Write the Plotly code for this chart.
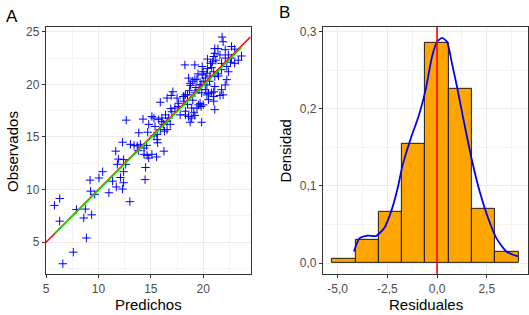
import numpy as np
import plotly.graph_objects as go

# ---------------- data: panel A (predicted vs observed) ----------------
predichos = [5.8, 6.3, 6.3, 7.6, 6.6, 8.85, 8.6, 9.35, 8.75, 7.9, 9.25, 9.65, 11.0, 13.0,
             9.2, 10.05, 10.4, 11.7, 12.3, 12.4, 11.35, 12.1, 12.4, 11.9, 12.4, 11.8, 12.6, 11.65,
             14.5, 14.45, 14.35, 14.65, 15.1, 15.55, 14.8, 16.25,
             12.3, 13.05, 13.4, 13.7, 14.0, 14.35, 14.6, 13.85, 14.7, 15.3, 15.6, 15.65, 16.3, 15.6,
             12.65, 14.25, 15.3, 15.75, 16.05, 15.1, 16.4, 16.7, 16.05, 16.55, 16.2, 16.85, 16.55, 15.9,
             15.9, 16.55, 17.1, 16.95, 17.5, 18.15, 18.15, 17.65, 17.3, 18.3, 18.9, 19.1, 18.9, 19.7,
             19.8, 17.8, 18.3, 18.6, 19.2, 18.75, 19.85, 19.55, 19.4, 20.0, 20.5, 21.0, 21.1, 18.1,
             18.6, 19.0, 19.4, 18.8, 19.3, 19.8, 18.7, 19.2, 19.6, 18.5, 19.85, 20.35, 20.8, 21.0,
             21.6, 20.35, 20.2, 20.5, 21.1, 21.0, 22.1, 21.75, 21.9, 18.75, 19.7, 18.3,
             19.2, 20.2, 20.65, 19.9, 20.35, 20.0, 21.0, 21.75, 21.1, 21.45, 22.25, 19.9, 19.2, 18.25,
             21.75, 22.25, 20.9, 21.2, 20.7, 23.0, 23.35, 22.4,
             21.1, 21.0, 22.4, 22.1, 22.7, 23.65, 21.1, 21.4, 22.1, 22.7, 23.0, 21.8, 21.9,
             20.0, 20.6, 19.5, 20.8, 21.4, 20.4, 19.0, 17.6, 18.5, 17.0, 16.9, 15.4, 14.8, 13.8,
             20.4, 22.6, 21.6]
observados = [8.5, 9.15, 7.0, 4.05, 2.95, 5.4, 7.3, 7.6, 8.15, 8.1, 9.85, 9.55, 9.7, 8.85,
              10.9, 11.1, 11.7, 10.25, 10.05, 10.65, 10.8, 11.15, 11.7, 12.9, 12.85, 12.4, 12.4, 13.65,
              12.1, 10.95, 13.35, 13.25, 13.35, 13.1, 13.0, 13.65,
              14.5, 14.3, 14.2, 14.15, 14.3, 13.95, 14.2, 15.4, 15.45, 15.1, 14.75, 14.45, 15.55, 15.25,
              16.6, 16.7, 16.8, 16.65, 16.8, 16.95, 17.1, 16.8, 16.45, 16.5, 16.2, 16.2, 15.7, 15.7,
              18.3, 18.7, 19.3, 18.95, 18.7, 18.85, 18.4, 18.2, 17.75, 17.45, 17.75, 17.3, 16.8, 18.2,
              17.9, 17.1, 17.1, 16.95, 17.05, 16.4, 16.4, 18.05, 17.75, 18.05, 18.55, 18.4, 17.6, 18.85,
              20.6, 20.3, 20.5, 19.9, 19.7, 20.0, 19.4, 19.2, 19.5, 19.0, 19.2, 19.0, 19.2, 18.85,
              18.95, 19.95, 19.5, 19.15, 19.8, 19.3, 19.95, 19.5, 19.0, 20.1, 19.95, 19.0,
              20.45, 20.6, 20.8, 20.9, 21.05, 21.2, 21.2, 21.4, 20.75, 20.8, 20.45, 21.7, 21.85, 21.85,
              22.0, 21.7, 22.15, 22.3, 22.0, 22.0, 22.3, 21.2,
              22.95, 22.65, 22.8, 22.5, 22.5, 22.7, 23.4, 23.4, 23.3, 23.6, 23.35, 24.5, 24.05,
              20.3, 20.3, 21.0, 21.6, 21.0, 21.5, 18.5, 17.9, 18.1, 17.4, 17.7, 16.0, 16.2, 13.7,
              22.4, 22.1, 22.8]

# ---------------- data: panel B (residual histogram + density) ----------------
bin_edges = [-5.27, -4.10, -2.94, -1.76, -0.60, 0.58, 1.74, 2.92, 4.10]
densidad_hist = [0.005, 0.030, 0.0665, 0.155, 0.286, 0.226, 0.0705, 0.015]
dens_x = [-4.18, -3.90, -3.48, -3.07, -2.66, -2.32, -1.99, -1.74, -1.33, -0.92, -0.58, -0.25,
          0.0, 0.25, 0.5, 0.75, 1.0, 1.33, 1.74, 2.15, 2.57, 2.99, 3.48, 4.06]
dens_y = [0.015, 0.032, 0.0355, 0.035, 0.045, 0.066, 0.096, 0.126, 0.161, 0.191, 0.224, 0.268,
          0.287, 0.292, 0.287, 0.259, 0.229, 0.186, 0.135, 0.092, 0.058, 0.032, 0.015, 0.0085]

x_ticks_b = [-5, -2.5, 0, 2.5]
x_ticktext_b = ["-5,0", "-2,5", "0,0", "2,5"]
y_ticks_b = [0, 0.1, 0.2, 0.3]
y_ticktext_b = ["0,0", "0,1", "0,2", "0,3"]

W, H = 529, 315
FONT = "Liberation Sans, Arial, sans-serif"

xr_a = [4.97, 24.52]
yr_a = [1.95, 25.47]
xr_b = [-5.74, 4.57]
yr_b = [-0.0146, 0.3064]

fig = go.Figure()

# Panel A
fig.add_trace(go.Scatter(x=predichos, y=observados, mode="markers",
                         marker=dict(symbol="cross-thin", size=6, line=dict(color="#0000FF", width=1)),
                         xaxis="x", yaxis="y", showlegend=False))
fig.add_trace(go.Scatter(x=xr_a, y=xr_a, mode="lines", line=dict(color="#FF0000", width=1.6),
                         xaxis="x", yaxis="y", showlegend=False))
coef = np.polyfit(predichos, observados, 1)
fx = np.array([min(predichos), max(predichos)])
fig.add_trace(go.Scatter(x=fx, y=np.polyval(coef, fx), mode="lines",
                         line=dict(color="#00E000", width=1.7),
                         xaxis="x", yaxis="y", showlegend=False))

# Panel B
centers = [(bin_edges[i] + bin_edges[i + 1]) / 2 for i in range(len(densidad_hist))]
widths = [bin_edges[i + 1] - bin_edges[i] for i in range(len(densidad_hist))]
fig.add_trace(go.Bar(x=centers, y=densidad_hist, width=widths,
                     marker=dict(color="#FFA500", line=dict(color="#1A1A1A", width=1)),
                     xaxis="x2", yaxis="y2", showlegend=False))
fig.add_trace(go.Scatter(x=dens_x, y=dens_y, mode="lines", line=dict(color="#0000FF", width=1.8, shape="spline", smoothing=0.6),
                         xaxis="x2", yaxis="y2", showlegend=False))
fig.add_trace(go.Scatter(x=[0, 0], y=yr_b, mode="lines", line=dict(color="#FF0000", width=1.6),
                         xaxis="x2", yaxis="y2", showlegend=False))

ax_common = dict(showline=True, mirror=True, linecolor="#333333", linewidth=1,
                 gridcolor="#EBEBEB", gridwidth=1, zeroline=False,
                 ticks="outside", ticklen=3, tickcolor="#333333", tickwidth=1,
                 tickfont=dict(family=FONT, size=12, color="#4D4D4D"))
dom_y = [41 / H, 290 / H]

fig.update_layout(
    width=W, height=H, margin=dict(l=0, r=0, t=0, b=0),
    paper_bgcolor="white", plot_bgcolor="white", bargap=0,
    xaxis=dict(domain=[43 / W, 249 / W], range=xr_a, tickvals=[5, 10, 15, 20],
               minor=dict(tickvals=[7.5, 12.5, 17.5, 22.5], showgrid=True, gridcolor="#F4F4F4", gridwidth=0.6, ticks=""),
               anchor="y", **ax_common),
    yaxis=dict(domain=dom_y, range=yr_a, tickvals=[5, 10, 15, 20, 25],
               minor=dict(tickvals=[2.5, 7.5, 12.5, 17.5, 22.5], showgrid=True, gridcolor="#F4F4F4", gridwidth=0.6, ticks=""),
               anchor="x", **ax_common),
    xaxis2=dict(domain=[321.7 / W, 0.998], range=xr_b, tickvals=x_ticks_b, ticktext=x_ticktext_b,
                minor=dict(tickvals=[-3.75, -1.25, 1.25, 3.75], showgrid=True, gridcolor="#F4F4F4", gridwidth=0.6, ticks=""),
                anchor="y2", **ax_common),
    yaxis2=dict(domain=dom_y, range=yr_b, tickvals=y_ticks_b, ticktext=y_ticktext_b,
                minor=dict(tickvals=[0.05, 0.15, 0.25], showgrid=True, gridcolor="#F4F4F4", gridwidth=0.6, ticks=""),
                anchor="x2", **ax_common),
)

def ann(text, xpx, ypx, size, angle=0):
    fig.add_annotation(text=text, x=xpx / W, y=1 - ypx / H, xref="paper", yref="paper",
                       showarrow=False, textangle=angle, xanchor="center", yanchor="middle",
                       font=dict(family=FONT, size=size, color="black"))

ann("Predichos", 146, 304, 15)
ann("Observados", 9, 150, 15, -90)
ann("Residuales", 425, 304, 15)
ann("Densidad", 284, 150, 15, -90)
ann("A", 9, 15, 17)
ann("B", 283, 11, 17)

fig.write_html("out.html", config={"displayModeBar": False},
               post_script="document.body.style.margin='0';document.body.style.overflow='hidden';")
